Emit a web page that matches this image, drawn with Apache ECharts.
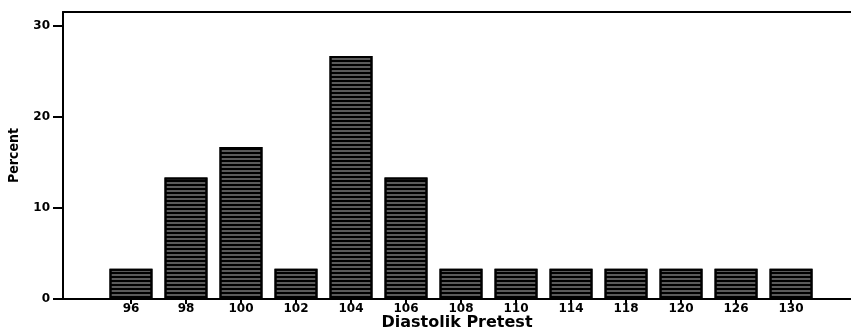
<!DOCTYPE html>
<html>
<head>
<meta charset="utf-8">
<script src="https://cdn.jsdelivr.net/npm/echarts@6/dist/echarts.min.js"></script>
<style>
  html, body { margin: 0; padding: 0; background: #fff; }
  #chart { width: 851px; height: 333px; }
</style>
</head>
<body>
<div id="chart"></div>
<script>
// diastolic pretest values (x categories) and percent of cases
var categories = ["96", "98", "100", "102", "104", "106", "108", "110", "114", "118", "120", "126", "130"];
var percents = [3.33, 13.33, 16.67, 3.33, 26.67, 13.33, 3.33, 3.33, 3.33, 3.33, 3.33, 3.33, 3.33];
var yTicks = [0, 10, 20, 30];

var chart = echarts.init(document.getElementById("chart"));

var idx = categories.map(function (c, i) { return i; });
var labelFont = { fontFamily: "DejaVu Sans", fontWeight: "bold", color: "#000" };

var option = {
  animation: false,
  aria: { enabled: true, decal: { show: true } },
  grid: { left: 63, right: 0, top: 12, bottom: 34, outerBoundsMode: "none" },
  xAxis: [{
    type: "value",
    min: -1.236,
    max: 13.09,
    name: "Diastolik Pretest",
    nameLocation: "middle",
    nameGap: 16,
    nameMoveOverlap: false,
    nameTextStyle: Object.assign({ fontSize: 16 }, labelFont),
    splitLine: { show: false },
    axisLine: { onZero: false, lineStyle: { color: "#000", width: 2 } },
    axisTick: { customValues: idx, length: 5, lineStyle: { color: "#000", width: 2 } },
    axisLabel: Object.assign({
      customValues: idx,
      margin: 4,
      fontSize: 12,
      formatter: function (v) { return categories[Math.round(v)]; }
    }, labelFont)
  }, {
    // top frame line
    type: "value",
    position: "top",
    min: -1.236,
    max: 13.09,
    splitLine: { show: false },
    axisLine: { onZero: false, lineStyle: { color: "#000", width: 2 } },
    axisTick: { show: false },
    axisLabel: { show: false }
  }],
  yAxis: {
    type: "value",
    min: 0,
    max: 31.5,
    name: "Percent",
    nameLocation: "middle",
    nameGap: 42,
    nameMoveOverlap: false,
    nameTextStyle: { fontFamily: "DejaVu Sans Condensed", fontWeight: "bold", fontSize: 14, color: "#000" },
    splitLine: { show: false },
    axisLine: { onZero: false, lineStyle: { color: "#000", width: 2 } },
    axisTick: { customValues: yTicks, length: 10, lineStyle: { color: "#000", width: 2 } },
    axisLabel: Object.assign({ customValues: yTicks, margin: 13, fontSize: 12 }, labelFont)
  },
  series: [{
    type: "bar",
    barWidth: 43,
    data: percents.map(function (p, i) { return [i, p]; }),
    itemStyle: {
      color: "#5a5a5a",
      borderColor: "#000",
      borderWidth: 2,
      decal: {
        symbol: "rect",
        symbolSize: 1,
        color: "#000",
        dashArrayX: [1, 0],
        dashArrayY: [2, 2],
        rotation: 0
      }
    }
  }]
};

chart.setOption(option);
</script>
</body>
</html>
